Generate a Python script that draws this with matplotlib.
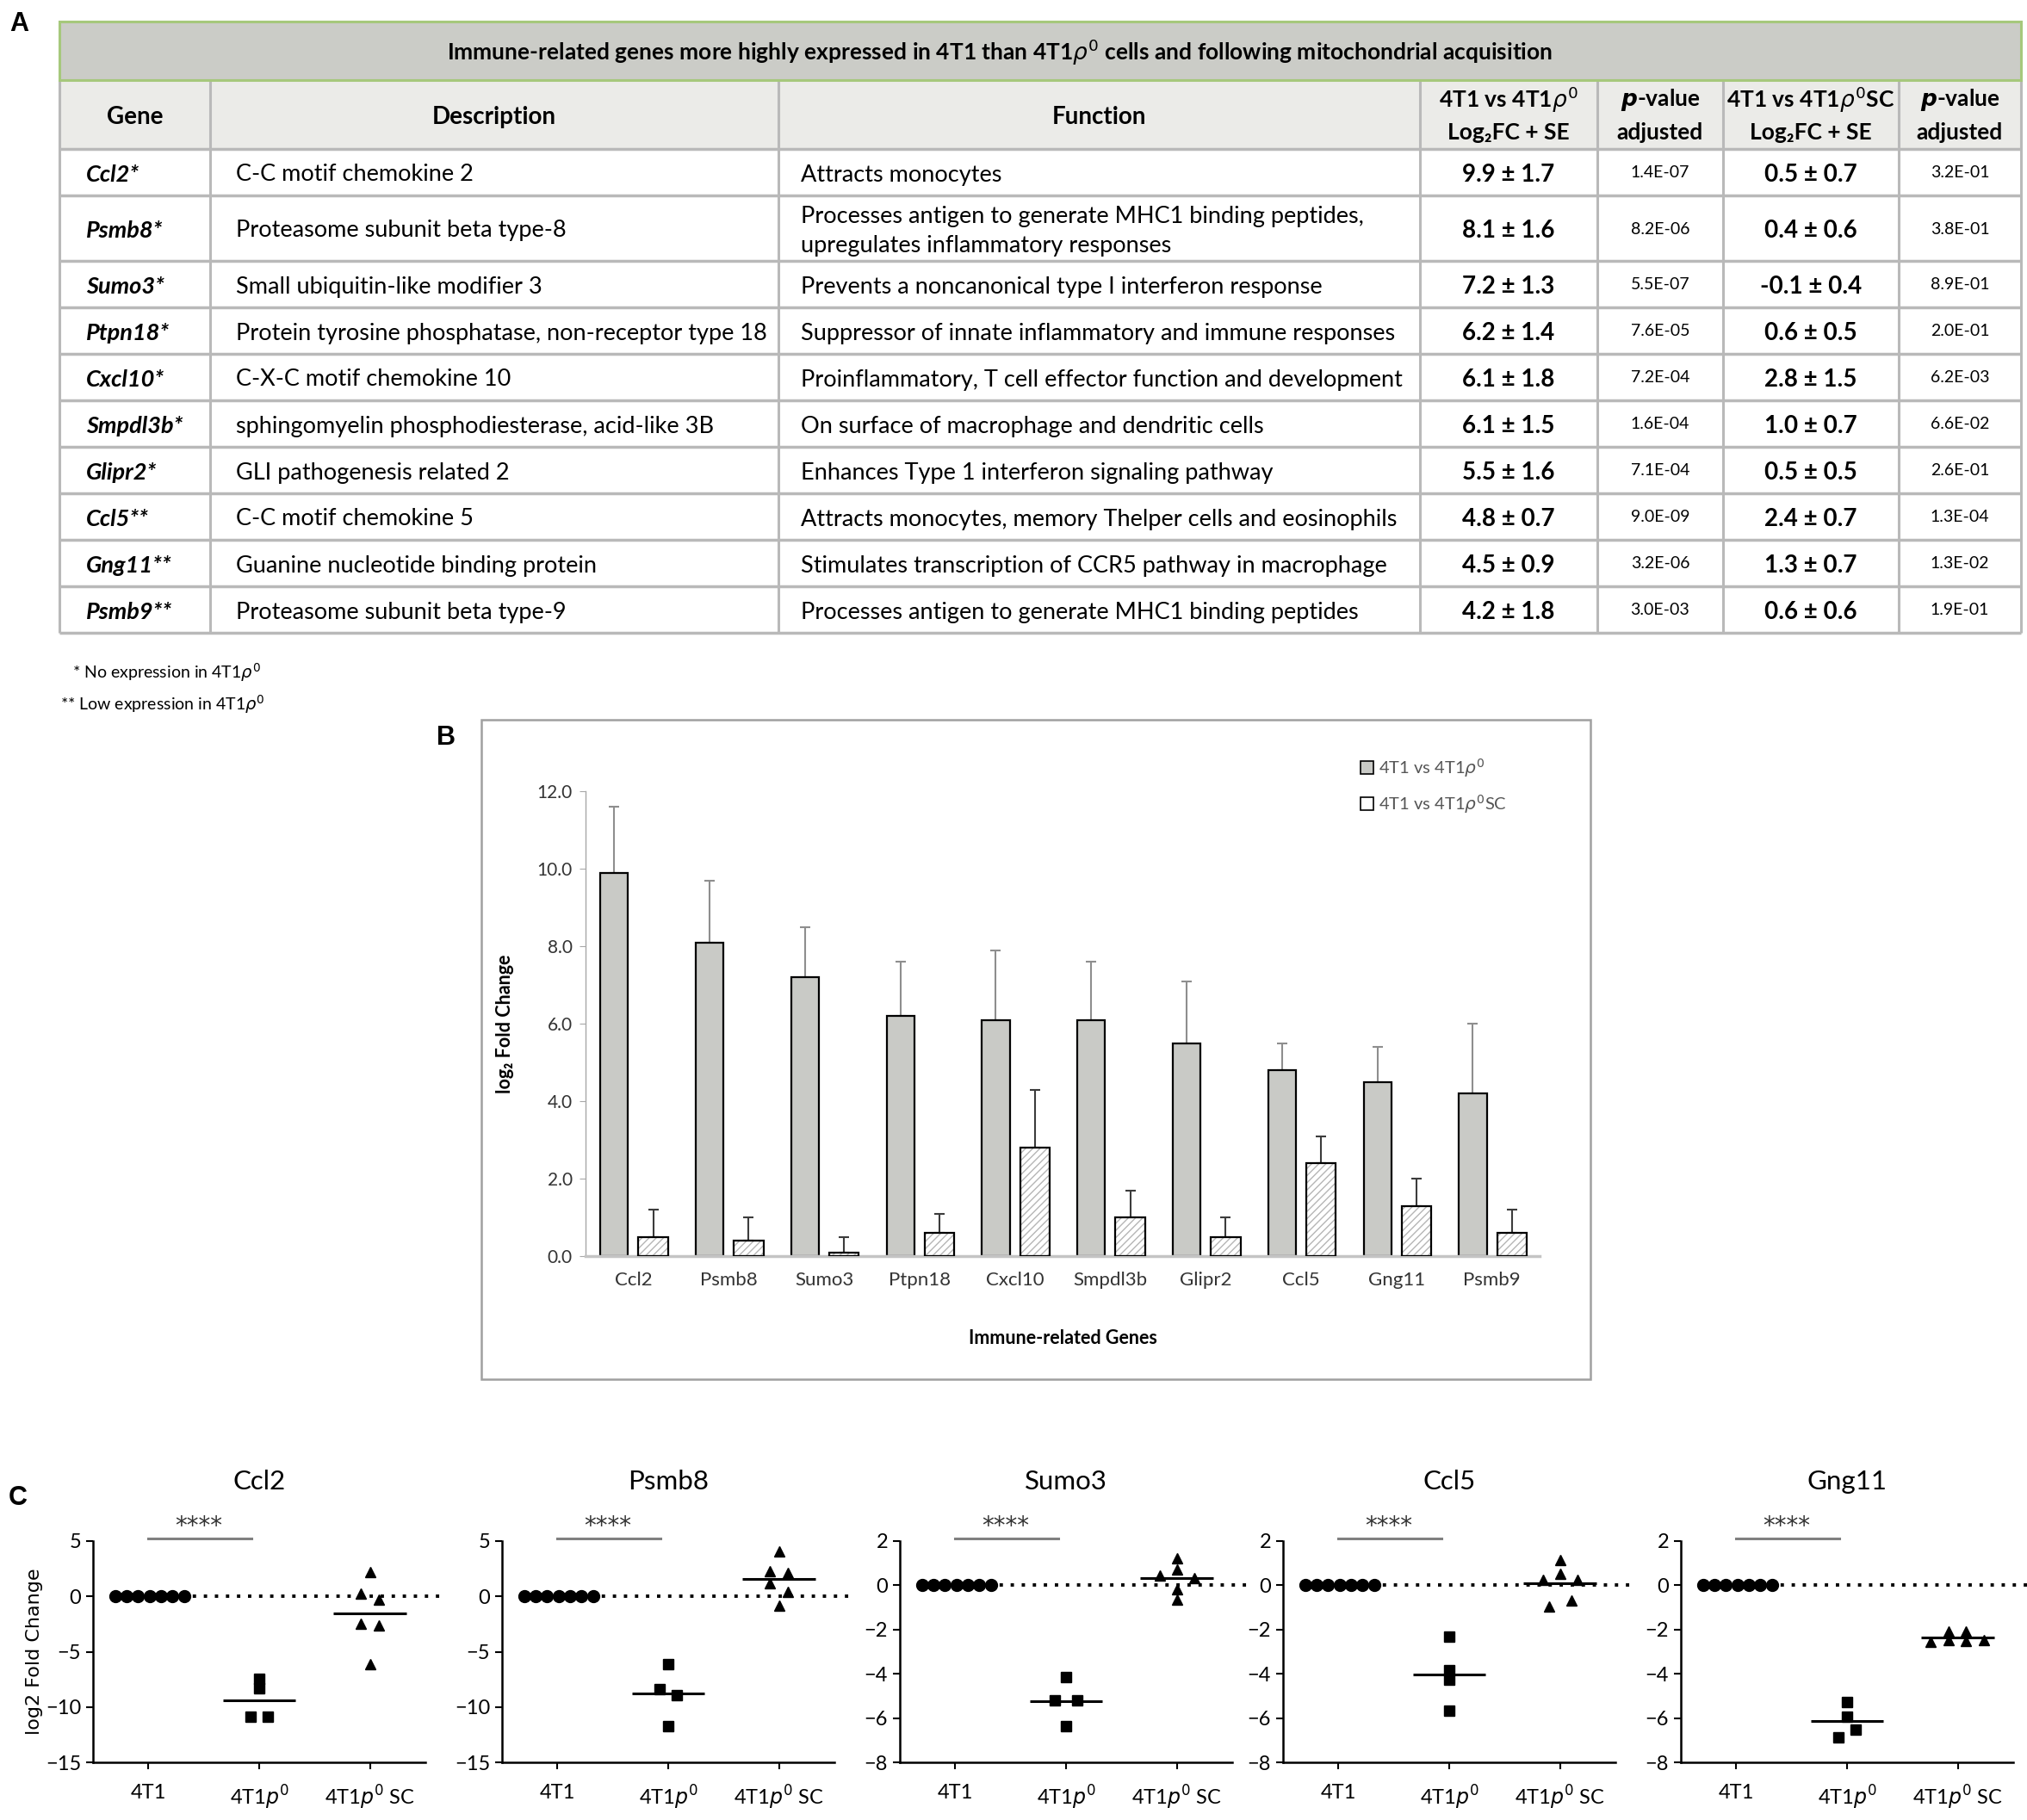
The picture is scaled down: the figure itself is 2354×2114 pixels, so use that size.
import numpy as np
import matplotlib
matplotlib.use('Agg')
import matplotlib.pyplot as plt
from matplotlib.patches import Rectangle, Patch
import matplotlib.transforms as mtrans

plt.rcParams['font.family'] = ['Lato', 'DejaVu Sans']
plt.rcParams['mathtext.fontset'] = 'dejavusans'
plt.rcParams['hatch.linewidth'] = 1.0

W, H = 2354, 2114

# ---------------- data: panel A / B ----------------
genes = ['Ccl2', 'Psmb8', 'Sumo3', 'Ptpn18', 'Cxcl10', 'Smpdl3b', 'Glipr2', 'Ccl5', 'Gng11', 'Psmb9']
gene_marks = ['*', '*', '*', '*', '*', '*', '*', '**', '**', '**']
descriptions = ['C-C motif chemokine 2',
                'Proteasome subunit beta type-8',
                'Small ubiquitin-like modifier 3',
                'Protein tyrosine phosphatase, non-receptor type 18',
                'C-X-C motif chemokine 10',
                'sphingomyelin phosphodiesterase, acid-like 3B',
                'GLI pathogenesis related 2',
                'C-C motif chemokine 5',
                'Guanine nucleotide binding protein',
                'Proteasome subunit beta type-9']
functions = ['Attracts monocytes',
             'Processes antigen to generate MHC1 binding peptides,\nupregulates inflammatory responses',
             'Prevents a noncanonical type I interferon response',
             'Suppressor of innate inflammatory and immune responses',
             'Proinflammatory, T cell effector function and development',
             'On surface of macrophage and dendritic cells',
             'Enhances Type 1 interferon signaling pathway',
             'Attracts monocytes, memory Thelper cells and eosinophils',
             'Stimulates transcription of CCR5 pathway in macrophage',
             'Processes antigen to generate MHC1 binding peptides']
fc_rho0 = [9.9, 8.1, 7.2, 6.2, 6.1, 6.1, 5.5, 4.8, 4.5, 4.2]
se_rho0 = [1.7, 1.6, 1.3, 1.4, 1.8, 1.5, 1.6, 0.7, 0.9, 1.8]
padj_rho0 = ['1.4E-07', '8.2E-06', '5.5E-07', '7.6E-05', '7.2E-04', '1.6E-04', '7.1E-04', '9.0E-09', '3.2E-06', '3.0E-03']
fc_sc = [0.5, 0.4, -0.1, 0.6, 2.8, 1.0, 0.5, 2.4, 1.3, 0.6]
se_sc = [0.7, 0.6, 0.4, 0.5, 1.5, 0.7, 0.5, 0.7, 0.7, 0.6]
padj_sc = ['3.2E-01', '3.8E-01', '8.9E-01', '2.0E-01', '6.2E-03', '6.6E-02', '2.6E-01', '1.3E-04', '1.3E-02', '1.9E-01']

table_title = r'Immune-related genes more highly expressed in 4T1 than 4T1$\rho^0$ cells and following mitochondrial acquisition'
footnotes = [r'* No expression in 4T1$\rho^0$', r'** Low expression in 4T1$\rho^0$']
legend_labels = [r'4T1 vs 4T1$\rho^0$', r'4T1 vs 4T1$\rho^0$SC']

# ---------------- data: panel C ----------------
c_genes = ['Ccl2', 'Psmb8', 'Sumo3', 'Ccl5', 'Gng11']
c_groups = ['4T1', r'4T1$\mathit{p}^0$', r'4T1$\mathit{p}^0$ SC']
ctrl_vals = [0, 0, 0, 0, 0, 0, 0]
ccl2_rho0 = [-7.45, -8.3, -10.9, -10.9]
ccl2_sc = [2.2, 0.26, -0.33, -2.47, -2.6, -6.1]
psmb8_rho0 = [-6.15, -8.37, -8.9, -11.7]
psmb8_sc = [4.1, 2.3, 2.1, 1.2, 0.4, -0.8]
sumo3_rho0 = [-4.16, -5.19, -5.19, -6.36]
sumo3_sc = [1.23, 0.71, 0.45, 0.32, -0.19, -0.65]
ccl5_rho0 = [-2.32, -3.82, -4.28, -5.65]
ccl5_sc = [1.16, 0.51, 0.25, 0.25, -0.67, -0.95]
gng11_rho0 = [-5.27, -5.92, -6.51, -6.86]
gng11_sc = [-2.54, -2.08, -2.47, -2.08, -2.50, -2.49]
c_ylims = [(-15, 5), (-15, 5), (-8, 2), (-8, 2), (-8, 2)]
c_yticks = [[5, 0, -5, -10, -15], [5, 0, -5, -10, -15],
            [2, 0, -2, -4, -6, -8], [2, 0, -2, -4, -6, -8], [2, 0, -2, -4, -6, -8]]
sig_label = '****'

# horizontal scatter offsets (layout only)
ctrl_off = np.linspace(-0.3, 0.32, 7)
rho0_offs = [[0, 0, -0.08, 0.08], [0, -0.08, 0.08, 0], [0, -0.1, 0.1, 0],
             [0, 0, 0, 0], [0, 0, 0.08, -0.08]]
sc_offs = [[0, -0.08, 0.08, -0.08, 0.08, 0], [0, -0.08, 0.08, -0.08, 0.08, 0],
           [0, 0, -0.155, 0.155, 0, 0], [0, 0, -0.155, 0.155, 0.1, -0.1],
           [-0.245, -0.085, -0.085, 0.075, 0.075, 0.235]]
c_rho0 = [ccl2_rho0, psmb8_rho0, sumo3_rho0, ccl5_rho0, gng11_rho0]
c_sc = [ccl2_sc, psmb8_sc, sumo3_sc, ccl5_sc, gng11_sc]

# ---------------- figure ----------------
fig = plt.figure(figsize=(W / 100, H / 100), dpi=100)
bg = fig.add_axes([0, 0, 1, 1])
bg.set_xlim(0, W)
bg.set_ylim(H, 0)
bg.axis('off')

# ---- Table (panel A) ----
col_x = [69, 244, 904, 1649, 1855, 2001, 2205, 2347]
y_top, y_title_bot, y_head_bot = 25, 93, 173
row_h = [76 if '\n' in f else 54 for f in functions]
row_y = y_head_bot + np.concatenate([[0], np.cumsum(row_h)])
grid_c = '#b9b9b9'
bg.add_patch(Rectangle((col_x[0], y_title_bot), col_x[-1] - col_x[0], y_head_bot - y_title_bot,
                       facecolor='#ebebe8', edgecolor='none', zorder=0))
for yy in row_y:
    bg.plot([col_x[0], col_x[-1]], [yy, yy], color=grid_c, lw=2.5, zorder=1, solid_capstyle='butt')
for xx in col_x:
    bg.plot([xx, xx], [y_title_bot, row_y[-1]], color=grid_c, lw=2.2, zorder=1, solid_capstyle='butt')
bg.add_patch(Rectangle((col_x[0], y_top), col_x[-1] - col_x[0], y_title_bot - y_top,
                       facecolor='#cbccc7', edgecolor='#a6c87c', lw=2.2, zorder=2))
bg.text(1161, 61, table_title, ha='center', va='center', fontsize=19, fontweight='bold', zorder=3)

hc = (y_title_bot + y_head_bot) / 2 + 3
bg.text((col_x[0] + col_x[1]) / 2, hc, 'Gene', ha='center', va='center', fontsize=20, fontweight='bold')
bg.text((col_x[1] + col_x[2]) / 2, hc, 'Description', ha='center', va='center', fontsize=20, fontweight='bold')
bg.text((col_x[2] + col_x[3]) / 2, hc, 'Function', ha='center', va='center', fontsize=20, fontweight='bold')
for ci, top_lbl in [(3, r'4T1 vs 4T1$\rho^0$'), (4, r'$\mathbfit{p}$-value'),
                    (5, r'4T1 vs 4T1$\rho^0$SC'), (6, r'$\mathbfit{p}$-value')]:
    cx = (col_x[ci] + col_x[ci + 1]) / 2
    bot_lbl = 'Log₂FC + SE' if ci in (3, 5) else 'adjusted'
    bg.text(cx, 116, top_lbl, ha='center', va='center', fontsize=19, fontweight='bold')
    bg.text(cx, 154, bot_lbl, ha='center', va='center', fontsize=19, fontweight='bold')

for i, g in enumerate(genes):
    yc = (row_y[i] + row_y[i + 1]) / 2 + 3
    bg.text(100, yc, g + gene_marks[i], ha='left', va='center', fontsize=19.5,
            fontweight='bold', fontstyle='italic')
    bg.text(274, yc, descriptions[i], ha='left', va='center', fontsize=19.5)
    bg.text(930, yc, functions[i], ha='left', va='center', fontsize=19.5, linespacing=1.45)
    bg.text((col_x[3] + col_x[4]) / 2, yc, f'{fc_rho0[i]:.1f} ± {se_rho0[i]:.1f}', ha='center',
            va='center', fontsize=20, fontweight='bold')
    bg.text((col_x[4] + col_x[5]) / 2, yc - 2, padj_rho0[i], ha='center', va='center', fontsize=14)
    bg.text((col_x[5] + col_x[6]) / 2, yc, f'{fc_sc[i]:.1f} ± {se_sc[i]:.1f}', ha='center',
            va='center', fontsize=20, fontweight='bold')
    bg.text((col_x[6] + col_x[7]) / 2, yc - 2, padj_sc[i], ha='center', va='center', fontsize=14)

bg.text(84, 781, footnotes[0], ha='left', va='center', fontsize=14)
bg.text(70, 818, footnotes[1], ha='left', va='center', fontsize=14)

# panel letters
for lbl, (px, py) in zip(['A', 'B', 'C'], [(22, 28), (518, 857), (21, 1740)]):
    bg.text(px, py, lbl, ha='center', va='center', fontsize=22, fontweight='bold',
            family=['Liberation Sans', 'DejaVu Sans'])

# ---- Panel B ----
bg.add_patch(Rectangle((559, 836), 1288, 766, fill=False, edgecolor='#a0a0a0', lw=1.8))
axB = fig.add_axes([680 / W, 1 - 1459 / H, 1108 / W, 540 / H])
x = np.arange(len(genes))
gray_c = '#c9cac6'
sc_h = np.abs(fc_sc)
axB.errorbar(x - 0.2, fc_rho0, yerr=[np.zeros(len(x)), se_rho0], fmt='none', ecolor='#8e8e8e',
             elinewidth=1.5, capsize=4, capthick=1.5, zorder=1)
axB.errorbar(x + 0.21, sc_h, yerr=[np.zeros(len(x)), se_sc], fmt='none', ecolor='#3c3c3c',
             elinewidth=1.5, capsize=4, capthick=1.5, zorder=1)
axB.bar(x - 0.2, fc_rho0, 0.29, color=gray_c, edgecolor='black', lw=1.6, zorder=2)
axB.bar(x + 0.21, sc_h, 0.31, color='white', edgecolor='#b5b5b5', hatch='////', lw=0, zorder=2)
axB.bar(x + 0.21, sc_h, 0.31, fill=False, edgecolor='black', lw=1.6, zorder=3)
axB.set_xlim(-0.5, len(genes) - 0.5)
axB.set_ylim(0, 12)
axB.set_yticks(np.arange(0, 12.1, 2))
axB.set_yticklabels([f'{v:.1f}' for v in np.arange(0, 12.1, 2)])
axB.set_xticks(x)
axB.set_xticklabels(genes)
for s in ['top', 'right']:
    axB.spines[s].set_visible(False)
axB.spines['left'].set_color('#a8a8a8')
axB.spines['left'].set_linewidth(1.0)
axB.spines['bottom'].set_color('#c4c4c4')
axB.spines['bottom'].set_linewidth(2.5)
axB.tick_params(axis='y', length=5, color='#a8a8a8', labelsize=15, labelcolor='#333333', pad=6)
axB.tick_params(axis='x', length=0, labelsize=16, labelcolor='#333333', pad=13)
axB.set_ylabel('log₂ Fold Change', fontsize=15.5, fontweight='bold')
axB.yaxis.set_label_coords(-0.075, 0.5)
axB.set_xlabel('Immune-related Genes', fontsize=15.5, fontweight='bold')
axB.xaxis.set_label_coords(0.5, -0.158)
handles = [Patch(facecolor=gray_c, edgecolor='black', lw=1.2),
           Patch(facecolor='white', edgecolor='black', lw=1.2)]
fig.legend(handles, legend_labels, loc='upper left', bbox_to_anchor=(1580 / W, 1 - 879 / H),
           frameon=False, fontsize=14.5, handlelength=0.75, handleheight=0.75, handletextpad=0.3,
           labelspacing=0.8, labelcolor='#555555', borderaxespad=0, borderpad=0)

# ---- Panel C ----
c_lefts = [108, 583, 1045, 1490, 1952]
c_w, c_top, c_bot = 386, 1790, 2047
for k, gname in enumerate(c_genes):
    ax = fig.add_axes([c_lefts[k] / W, 1 - c_bot / H, c_w / W, (c_bot - c_top) / H])
    ax.set_xlim(-0.5, 2.5)
    ax.set_ylim(*c_ylims[k])
    ax.plot([-0.3, 2.68], [0, 0], color='black', lw=2.8, ls=(0, (1, 2.3)), clip_on=False, zorder=1)
    ax.plot(0 + ctrl_off, ctrl_vals, 'o', color='black', ms=10, zorder=3, clip_on=False)
    r = np.array(c_rho0[k])
    s = np.array(c_sc[k])
    ax.plot(1 + np.array(rho0_offs[k]), r, 's', color='black', ms=8.5, zorder=3)
    ax.plot(2 + np.array(sc_offs[k]), s, '^', color='black', ms=8.5, zorder=3)
    ax.hlines(r.mean(), 1 - 0.33, 1 + 0.33, color='black', lw=2.2, zorder=2)
    ax.hlines(s.mean(), 2 - 0.33, 2 + 0.33, color='black', lw=2.2, zorder=2)
    tr = mtrans.blended_transform_factory(ax.transData, ax.transAxes)
    ax.plot([0, 0.93], [1.012, 1.012], color='#808080', lw=2.2, transform=tr, clip_on=False)
    ax.text(0.45, 1.065, sig_label, transform=tr, ha='center', va='center', fontsize=20,
            color='#333333', family='DejaVu Sans')
    ax.text(0.5, 1.27, gname, transform=ax.transAxes, ha='center', va='center', fontsize=22.5)
    ax.set_yticks(c_yticks[k])
    ax.set_xticks([0, 1, 2])
    ax.set_xticklabels(c_groups)
    for sp in ['top', 'right']:
        ax.spines[sp].set_visible(False)
    for sp in ['left', 'bottom']:
        ax.spines[sp].set_linewidth(1.8)
    ax.tick_params(axis='y', length=6, width=1.5, labelsize=17, pad=4)
    ax.tick_params(axis='x', length=6, width=1.5, labelsize=17, pad=12)
    if k == 0:
        ax.set_ylabel('log2 Fold Change', fontsize=16, family='DejaVu Sans')
        ax.yaxis.set_label_coords(-0.15, 0.5)

fig.savefig('out.png', dpi=100)
